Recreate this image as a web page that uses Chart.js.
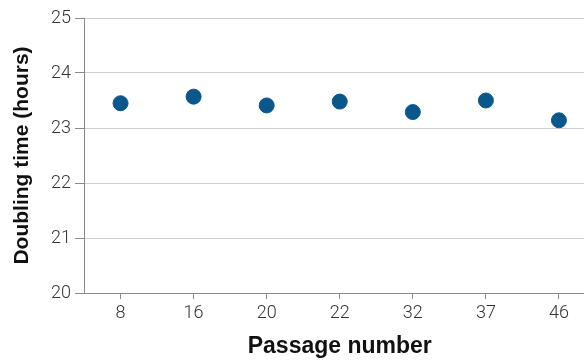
<!DOCTYPE html>
<html>
<head>
<meta charset="utf-8">
<script src="https://cdn.jsdelivr.net/npm/chart.js@4/dist/chart.umd.min.js"></script>
<style>
  html, body { margin: 0; padding: 0; background: #fff; overflow: hidden; width: 604px; height: 360px; }
  #c { display: block; width: 604px; height: 360px; }
</style>
</head>
<body>
<!-- the last passage slot runs past the visible right edge of the page -->
<canvas id="c" width="604" height="360"></canvas>
<script>
// Passage numbers and the measured doubling times (hours)
const passages = ['8', '16', '20', '22', '32', '37', '46'];
const doublingTimes = [23.45, 23.57, 23.41, 23.48, 23.29, 23.50, 23.14];
const yTicks = [20, 21, 22, 23, 24, 25];

const tickFont = { family: 'Roboto, "Liberation Sans", sans-serif', size: 18, weight: '300' };
const xTitleFont = { family: '"Liberation Sans", Arial, sans-serif', size: 23, weight: 'bold' };
const yTitleFont = { family: '"Liberation Sans", Arial, sans-serif', size: 21, weight: 'bold' };

new Chart(document.getElementById('c'), {
  type: 'scatter',
  data: {
    labels: passages,
    datasets: [{
      data: doublingTimes,
      backgroundColor: '#0a578c',
      borderColor: '#0a578c',
      pointRadius: 7.5,
      pointHoverRadius: 7.5,
      showLine: false
    }]
  },
  options: {
    responsive: false,
    maintainAspectRatio: false,
    animation: false,
    events: [],
    layout: { padding: { top: 18, right: 0, left: 0, bottom: 0 } },
    plugins: { legend: { display: false }, tooltip: { enabled: false } },
    scales: {
      x: {
        type: 'category',
        offset: true,
        border: { color: '#8a8a8a', width: 1 },
        grid: { offset: false, drawOnChartArea: false, drawTicks: true, tickLength: 6, tickColor: '#8a8a8a' },
        ticks: { color: '#333', font: tickFont, padding: 4, maxRotation: 0, autoSkip: false },
        title: { display: true, text: 'Passage number', color: '#111', font: xTitleFont, padding: { top: 10, bottom: 0 } },
        afterFit: (s) => { s.height = 67; }
      },
      y: {
        min: 20,
        max: 25,
        border: { color: '#8a8a8a', width: 1 },
        grid: { color: '#cfcfcf', tickColor: '#8a8a8a', tickLength: 9, lineWidth: 1 },
        afterBuildTicks: (s) => { s.ticks = yTicks.map(v => ({ value: v })); },
        ticks: { color: '#333', font: tickFont, padding: 4 },
        title: { display: true, text: 'Doubling time (hours)', color: '#111', font: yTitleFont, padding: { top: 10, bottom: 0 } },
        afterFit: (s) => { s.width = 84; }
      }
    }
  }
});
</script>
</body>
</html>
